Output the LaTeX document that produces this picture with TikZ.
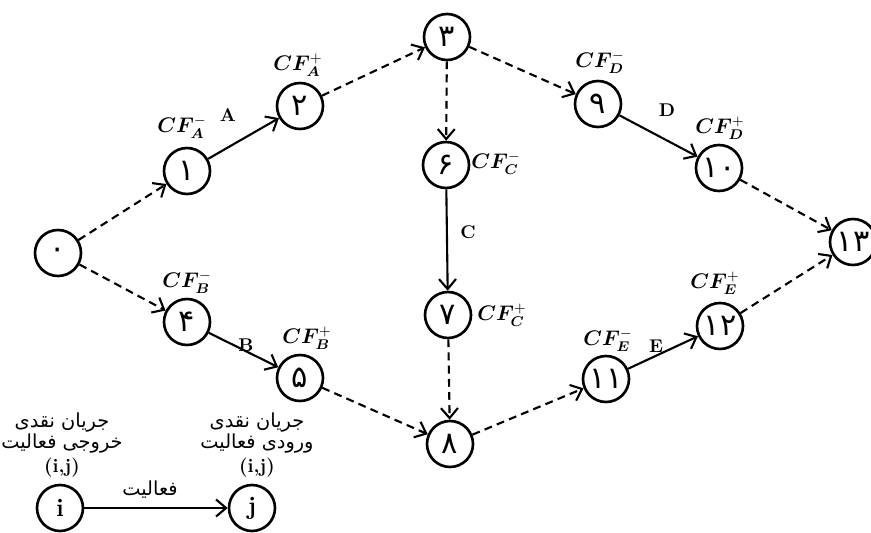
\documentclass[tikz,border=0pt]{standalone}
\usepackage{amsmath}
\usepackage{bm}
\usepackage{fontspec}
\newfontfamily\arabicfont[Script=Arabic]{DejaVu Sans}
\TeXXeTstate=1
\usetikzlibrary{arrows.meta}

\begin{document}
\begin{tikzpicture}
[
	x=0.02cm,y=-0.02cm,
	ev/.style={circle,draw,line width=1.5pt,minimum size=0.92cm,inner sep=0pt,font=\arabicfont\LARGE},
	act/.style={line width=1.2pt,-{Straight Barb[length=2mm,width=3.4mm,line width=1.2pt]}},
	dum/.style={act,dash pattern=on 4.5pt off 3pt},
	cf/.style={inner sep=0pt,font=\large},
	lbl/.style={inner sep=0pt,font=\bfseries\fontsize{10.5}{12}\selectfont},
	fa/.style={inner sep=0pt,align=center,font=\arabicfont\fontsize{11}{12.5}\selectfont}
]
\useasboundingbox (0,0) rectangle (871,533);

\node[ev] (n0) at (58,253) {۰};
\node[ev] (n1) at (187,171) {۱};
\node[ev] (n2) at (300,106) {۲};
\node[ev] (n3) at (447,37) {۳};
\node[ev] (n4) at (187,322) {۴};
\node[ev] (n5) at (300,378) {۵};
\node[ev] (n6) at (446,165) {۶};
\node[ev] (n7) at (448,315) {۷};
\node[ev] (n8) at (450,444) {۸};
\node[ev] (n9) at (598,104) {۹};
\node[ev] (n10) at (719,168) {۱۰};
\node[ev] (n11) at (606,379) {۱۱};
\node[ev] (n12) at (720,326) {۱۲};
\node[ev] (n13) at (853,242) {۱۳};

\node[ev,font=\bfseries\Large] (ni) at (60,508) {i};
\node[ev,font=\bfseries\Large] (nj) at (252,508) {j};

\node[cf] (cfa1) at (182,127) {$\bm{CF}_{\bm{A}}^{-}$};
\node[cf] (cfa2) at (298,65) {$\bm{CF}_{\bm{A}}^{+}$};
\node[cf] (cfb1) at (187,282) {$\bm{CF}_{\bm{B}}^{-}$};
\node[cf] (cfb2) at (307,338) {$\bm{CF}_{\bm{B}}^{+}$};
\node[cf] (cfc1) at (496,163) {$\bm{CF}_{\bm{C}}^{-}$};
\node[cf] (cfc2) at (502,315) {$\bm{CF}_{\bm{C}}^{+}$};
\node[cf] (cfd1) at (600,62) {$\bm{CF}_{\bm{D}}^{-}$};
\node[cf] (cfd2) at (720,128) {$\bm{CF}_{\bm{D}}^{+}$};
\node[cf] (cfe1) at (608,340) {$\bm{CF}_{\bm{E}}^{-}$};
\node[cf] (cfe2) at (715,283) {$\bm{CF}_{\bm{E}}^{+}$};

\node[lbl] (la) at (228,115) {A};
\node[lbl] (lb) at (246,345) {B};
\node[lbl] (lc) at (468,232) {C};
\node[lbl] (ld) at (667,110) {D};
\node[lbl] (le) at (656,346) {E};

\node[fa] (outtxt) at (62,433) {\beginR جریان نقدی\endR\\\beginR خروجی فعالیت\endR};
\node[lbl,font=\bfseries\fontsize{11}{12}\selectfont] (outij) at (62,468) {(i,j)};
\node[fa] (intxt) at (257,433) {\beginR جریان نقدی\endR\\\beginR ورودی فعالیت\endR};
\node[lbl,font=\bfseries\fontsize{11}{12}\selectfont] (inij) at (257,468) {(i,j)};
\node[fa] (acttxt) at (150,490) {\beginR فعالیت\endR};

\draw[dum] (n0) -- (n1);
\draw[dum] (n0) -- (n4);
\draw[act] (n1) -- (n2);
\draw[act] (n4) -- (n5);
\draw[dum] (n2) -- (n3);
\draw[dum] (n3) -- (n6);
\draw[dum] (n3) -- (n9);
\draw[act] (n6) -- (n7);
\draw[dum] (n7) -- (n8);
\draw[dum] (n5) -- (n8);
\draw[dum] (n8) -- (n11);
\draw[act] (n9) -- (n10);
\draw[act] (n11) -- (n12);
\draw[dum] (n10) -- (n13);
\draw[dum] (n12) -- (n13);

\draw[act] (ni) -- (nj);

\end{tikzpicture}
\end{document}
